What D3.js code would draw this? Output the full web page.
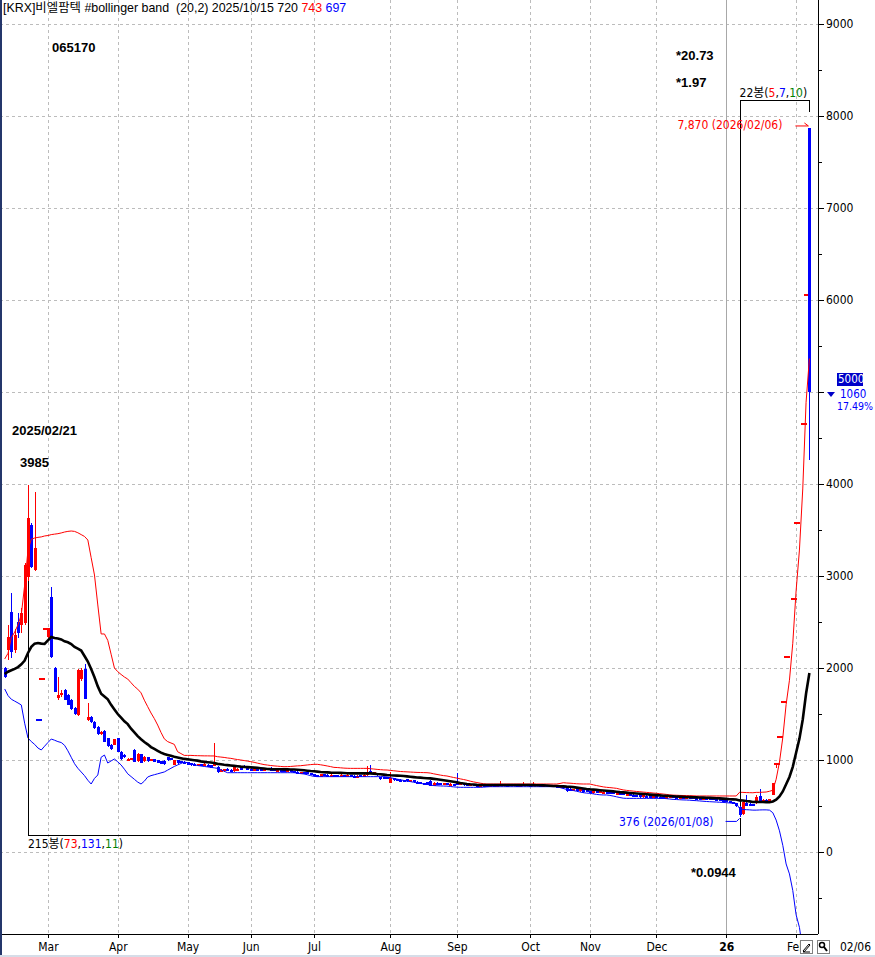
<!DOCTYPE html>
<html>
<head>
<meta charset="utf-8">
<script src="https://cdn.jsdelivr.net/npm/d3@7"></script>
<style>
  body { margin: 0; background: #fff; }
  svg { display: block; }
</style>
</head>
<body>
<div id="container"></div>
<script>
// daily bars 2025/02/12 .. 2026/02/06 (null = trading halt)
const open = [
  2000,2196,2612,2200,2500,2470,2490,2990,3555,3065,1446,1890,2435, // Feb
  2340,2772,2000,1670,1710,1760,1710,1650,1560,1490,1880,1990,1430,1470,1415,1360,1280,1310,1235,1160, // Mar
  1165,1235,1090,1050,1010,1008,1110,985,1060,985,1030,990,1010,1000,985,990,1030,1020,950,1000,985,980, // Apr
  975,965,960,940,958,940,950,945,935,925,870,880,905,895,880,895,915,940,915, // May
  905,895,905,900,890,895,915,900,880,895,890,878,890,880,875,860,870,865,860, // Jun
  845,840,820,845,840,828,838,835,826,838,820,840,830,818,835,826,835,880,845,860,815,815,810, // Jul
  755,800,790,785,780,790,765,780,765,760,750,760,775,720,755,750,730,750,728,740, // Aug
  745,730,752,740,722,735,730,712,728,725,716,728,718,725,735,730,720,735,730,718,722,735, // Sep
  730,718,735,728,715,728,714,725,720,706,715,710,690,665,685,660,680,670, // Oct
  665,640,665,640,645,655,650,655,630,645,640,620,632,625,620,615,595,612,608,598, // Nov
  608,602,600,588,592,605,600,588,600,588,600,595,592,588,575,590,585,582,578,572,570, // Dec
  560,555,545,535,490,410,530,525,520,530,610,550,570,565,620,971,1262,1640,2130,null,2765, // Jan
  3590,null,4665,6060,7870 // Feb
];
const high = [
  2010,2467,2815,2420,2600,2650,3140,3985,3580,3916,1446,1890,2435,
  2435,2880,2010,1900,1760,1770,1720,1660,1575,1990,2000,2040,1620,1480,1420,1365,1320,1330,1240,1170,
  1230,1240,1100,1060,1020,1020,1115,1080,1065,1040,1035,1015,1015,1005,990,995,1035,1025,1005,1005,990,985,
  980,970,965,960,960,962,955,948,1190,930,900,905,910,900,930,915,920,945,920,
  910,910,908,905,905,915,920,905,895,898,895,895,892,885,880,875,872,870,862,
  850,842,850,848,845,845,842,840,845,840,845,842,835,835,840,845,940,945,870,862,820,818,812,
  870,805,795,790,785,795,785,782,770,762,752,765,780,760,758,752,755,752,745,742,
  855,760,755,742,740,738,732,735,730,728,730,730,735,775,738,732,740,738,732,740,760,738,
  735,758,738,730,732,730,730,728,722,725,718,712,695,690,688,690,682,672,
  668,670,668,665,660,658,652,660,650,648,642,640,635,628,622,618,625,615,610,612,
  610,605,602,605,610,608,602,605,602,608,602,598,595,590,595,592,588,585,580,575,572,
  565,558,548,538,500,552,615,530,522,615,680,575,575,580,747,971,1262,1640,2130,null,2765,
  3590,null,4665,6060,7870
];
const low = [
  1890,2087,2108,2160,2330,2380,2470,2950,3090,3050,1446,1890,2435,
  2330,2108,1735,1650,1690,1650,1595,1545,1490,1480,1860,1660,1420,1400,1340,1275,1270,1195,1145,1110,
  1160,1085,1000,1020,1000,1000,975,980,965,980,975,985,975,965,955,950,990,995,945,960,965,955,
  945,940,935,935,935,935,930,915,930,860,865,875,885,880,875,890,900,915,900,
  895,890,890,890,885,890,880,880,875,875,878,875,865,860,858,855,855,850,848,
  825,815,815,825,825,825,825,822,822,820,815,818,815,815,822,820,830,850,840,830,785,790,790,
  750,775,770,765,762,765,760,755,745,735,730,725,715,715,735,728,725,725,722,725,
  725,725,722,720,718,718,712,708,708,712,712,715,715,720,718,716,716,718,715,715,718,718,
  715,715,716,712,712,712,710,708,705,702,690,655,665,660,655,655,645,648,
  640,635,640,636,630,632,630,635,625,622,615,616,615,606,600,590,590,598,596,595,
  590,588,585,585,588,588,585,585,586,585,584,580,575,574,572,575,572,565,560,558,550,
  540,530,520,490,376,405,495,505,495,525,540,545,555,560,615,915,1262,1640,2130,null,2765,
  3590,null,4665,6060,4260
];
const close = [
  1905,2337,2177,2360,2380,2600,3120,3630,3100,3300,1446,1890,2435,
  2435,2120,1740,1710,1730,1655,1600,1550,1500,1975,1980,1665,1470,1410,1345,1280,1300,1200,1150,1120,
  1228,1090,1010,1030,1015,1018,980,1060,970,1030,985,1010,980,970,960,955,995,1000,1000,965,970,960,
  950,945,940,955,938,958,932,918,975,865,895,900,890,885,925,905,905,920,905,
  898,905,895,892,900,910,885,882,890,878,880,890,868,862,860,870,858,855,850,
  828,818,845,830,828,840,828,826,840,824,840,822,818,830,826,842,860,855,865,835,790,795,792,
  800,780,775,770,765,768,780,758,748,738,733,730,720,755,740,732,750,728,740,730,
  730,755,725,724,735,722,716,730,712,716,726,720,730,735,722,720,735,722,719,732,735,722,
  719,735,720,716,728,716,725,712,708,720,695,660,670,685,660,685,650,652,
  645,665,645,660,655,636,634,640,645,626,618,635,620,610,604,595,620,602,600,608,
  594,592,590,600,605,592,590,600,590,602,588,584,580,578,590,580,576,570,565,562,555,
  545,535,525,495,405,545,500,510,498,600,550,570,560,575,747,971,1262,1640,2130,null,2765,
  3590,null,4665,6060,5000
];

// bollinger band (20,2) as drawn
const upperBand = [
  2098,2160,2330,2390,2470,2580,2900,3280,3400,3413,3420,3425,3435,
  3440,3450,3455,3460,3468,3478,3485,3489,3485,3470,3450,3430,3391,3200,3011,2685,2370,2370,2300,2150,
  2000,1960,1930,1902,1880,1840,1800,1770,1730,1650,1580,1511,1450,1380,1300,1230,1200,1185,1170,1090,1070,1050,
  1050,1050,1048,1047,1046,1045,1045,1044,1044,1036,1032,1028,1022,1018,1011,1005,1000,994,988,
  982,975,966,958,950,945,940,936,933,930,927,928,930,933,936,938,942,946,950,
  953,953,948,942,935,928,920,918,915,912,910,909,909,909,909,909,909,905,902,898,895,892,891,
  887,883,879,875,873,871,869,867,865,864,863,862,858,850,843,836,830,826,818,810,
  803,795,788,780,770,762,755,748,742,739,739,739,739,739,739,739,739,739,739,739,739,739,
  739,739,739,739,739,739,739,739,739,745,753,750,748,745,742,740,739,739,
  739,730,722,715,708,703,700,696,692,683,675,670,666,662,658,655,651,648,645,641,
  638,634,630,626,620,618,617,615,614,613,612,611,609,609,609,609,609,609,609,609,609,
  609,609,609,609,649,648,646,645,644,648,648,650,652,660,671,791,978,1244,1602,1867,2269,
  2839,3282,3946,4888,5364
];
const midBand = [
  1935,1960,1975,1990,2010,2040,2080,2163,2230,2265,2272,2265,2261,
  2300,2337,2326,2320,2310,2290,2280,2260,2228,2210,2190,2130,2070,1990,1900,1800,1720,1690,1660,1600,
  1550,1500,1460,1420,1390,1340,1300,1260,1225,1195,1170,1140,1120,1100,1080,1065,1055,1045,1035,1028,1020,1012,
  1008,1003,998,993,985,980,976,972,967,958,953,948,944,940,936,932,928,925,923,
  920,917,914,911,907,903,901,900,900,899,898,898,897,896,894,892,888,884,880,
  877,874,870,867,865,863,862,861,860,858,856,855,855,855,855,855,855,855,852,848,845,841,837,
  834,832,830,828,826,822,818,814,810,808,805,802,800,795,790,785,780,775,769,763,
  757,750,745,740,736,733,730,728,728,728,728,728,728,728,728,728,728,728,728,728,728,728,
  728,727,726,725,724,722,720,718,717,715,713,711,710,705,700,695,690,685,
  681,678,675,672,669,666,663,659,655,651,648,645,642,639,636,633,630,627,624,621,
  618,615,612,610,608,606,604,602,600,598,597,595,594,592,591,589,588,586,584,583,580,
  577,574,572,570,561,559,554,550,544,545,543,543,542,541,549,569,604,658,736,815,926,
  1078,1232,1440,1723,1946
];
const lowerBand = [
  1772,1700,1660,1640,1620,1598,1400,1239,1200,1170,1130,1109,1150,
  1190,1228,1215,1200,1190,1160,1100,1030,960,910,870,830,780,739,800,837,1030,1054,967,990,
  1011,980,946,900,850,820,790,760,739,770,815,830,840,850,860,870,890,910,930,946,962,978,
  970,960,950,940,935,930,925,920,915,909,895,878,862,862,862,862,862,862,862,
  862,862,862,862,862,862,862,862,862,862,862,862,862,862,858,852,848,840,830,
  822,819,819,819,819,819,819,819,819,819,819,819,819,819,819,819,819,819,819,819,819,819,815,
  808,800,792,785,778,770,765,758,752,746,740,735,728,722,720,718,717,716,712,708,
  705,703,703,703,703,703,703,703,705,708,710,710,710,710,710,710,710,710,710,710,710,710,
  710,710,710,710,710,710,710,710,710,700,690,680,674,668,660,652,645,640,
  638,632,626,622,620,620,615,608,600,592,585,583,583,583,583,583,583,583,583,583,
  583,583,583,580,576,572,570,568,566,565,563,560,558,555,552,549,547,545,543,541,539,
  536,533,530,529,473,462,460,458,455,455,457,458,458,455,427,347,230,72,-130,-238,-418,
  -682,-819,-1066,-1442,-1473
];

const monthTicks = [13, 34, 55, 74, 93, 116, 136, 158, 176, 196, 217, 238];
const monthLabels = ["Mar","Apr","May","Jun","Jul","Aug","Sep","Oct","Nov","Dec","26","Feb"];
const priceTicks = d3.range(0, 9001, 1000);
const minorTicks = d3.range(-500, 9000, 1000);

const RED = "#ff0000", BLUE = "#0000ff", GREEN = "#008000";
const NARROW = '"Liberation Sans Narrow","DejaVu Sans Condensed","Liberation Sans","Noto Sans CJK KR",sans-serif';
const SANS = '"Liberation Sans","Noto Sans CJK KR",sans-serif';

const plotW = 818, plotH = 934;
const x = d3.scaleLinear().domain([0, close.length - 1]).range([4.7, 809.4]);
const y = d3.scaleLinear().domain([0, 9000]).range([852, 24]);

const svg = d3.select("#container").append("svg")
    .attr("width", 875).attr("height", 957)
    .attr("font-family", SANS);

svg.append("defs").append("clipPath").attr("id", "plot")
  .append("rect").attr("x", 0).attr("y", 0).attr("width", plotW).attr("height", plotH);

// grid
const grid = svg.append("g").attr("shape-rendering", "crispEdges");
grid.selectAll("line.h").data(priceTicks).join("line")
    .attr("x1", 0).attr("x2", plotW)
    .attr("y1", d => Math.round(y(d)) + 0.5).attr("y2", d => Math.round(y(d)) + 0.5)
    .attr("stroke", "#bcbcbc").attr("stroke-dasharray", "3,3");
grid.selectAll("line.v").data(monthTicks).join("line")
    .attr("x1", d => Math.round(x(d)) + 0.5).attr("x2", d => Math.round(x(d)) + 0.5)
    .attr("y1", 0).attr("y2", plotH)
    .attr("stroke", (d, k) => monthLabels[k] === "26" ? "#a8a8a8" : "#bcbcbc")
    .attr("stroke-width", (d, k) => monthLabels[k] === "26" ? 1.5 : 1)
    .attr("stroke-dasharray", (d, k) => monthLabels[k] === "26" ? null : "3,3");

const plot = svg.append("g").attr("clip-path", "url(#plot)");

// candles
function prevClose(i) {
  for (let k = i - 1; k >= 0; k--) if (close[k] != null) return close[k];
  return close[i];
}
const bars = d3.range(close.length).filter(i => close[i] != null).map(i => {
  const o = open[i], c = close[i];
  const col = c > o ? RED : c < o ? BLUE : (c >= prevClose(i) ? RED : BLUE);
  return { i, o, h: high[i], l: low[i], c, col };
});

const cg = plot.append("g").attr("shape-rendering", "crispEdges");
const candle = cg.selectAll("g").data(bars).join("g");
candle.filter(d => d.h > d.l).append("line")
    .attr("x1", d => Math.round(x(d.i)) + 0.5).attr("x2", d => Math.round(x(d.i)) + 0.5)
    .attr("y1", d => y(d.h)).attr("y2", d => y(d.l))
    .attr("stroke", d => d.col);
candle.append("rect")
    .attr("x", d => Math.round(x(d.i)) - (d.o === d.c ? 2 : 1))
    .attr("width", d => d.o === d.c ? 6 : 3)
    .attr("y", d => Math.round(y(Math.max(d.o, d.c))))
    .attr("height", d => Math.max(2, Math.round(y(Math.min(d.o, d.c))) - Math.round(y(Math.max(d.o, d.c)))))
    .attr("fill", d => d.col);

// bands
const bandLine = d3.line().x((d, i) => x(i)).y(d => y(d));
plot.append("path").attr("d", bandLine(upperBand)).attr("fill", "none").attr("stroke", RED).attr("stroke-width", 1);
plot.append("path").attr("d", bandLine(lowerBand)).attr("fill", "none").attr("stroke", BLUE).attr("stroke-width", 1);
plot.append("path").attr("d", bandLine(midBand)).attr("fill", "none").attr("stroke", "#000").attr("stroke-width", 2.6);

// period boxes
const iA = 7, iB = 221, iC = close.length - 1;
const boxBottom = y(low[iB]) + 18, boxTop = y(high[iC]) - 27;
svg.append("path")
    .attr("d", `M${Math.round(x(iA)) + 0.5},${y(low[iA])} V${boxBottom} H${Math.round(x(iB)) + 0.5} V${y(low[iB]) + 1}`)
    .attr("fill", "none").attr("stroke", "#000").attr("shape-rendering", "crispEdges");
svg.append("path")
    .attr("d", `M${Math.round(x(iB)) + 0.5},${y(high[iB])} V${boxTop} H${Math.round(x(iC)) + 0.5} V${boxTop + 11}`)
    .attr("fill", "none").attr("stroke", "#000").attr("shape-rendering", "crispEdges");

function colored(sel, parts) {
  parts.forEach(([t, c]) => sel.append("tspan").attr("fill", c).text(t));
  return sel;
}
colored(svg.append("text").attr("x", x(iB)).attr("y", boxTop - 4)
    .attr("font-family", NARROW).attr("font-size", 12),
  [["22봉(", "#000"], ["5", RED], [",", "#000"], ["7", BLUE], [",", "#000"], ["10", GREEN], [")", "#000"]]);
colored(svg.append("text").attr("x", x(iA)).attr("y", boxBottom + 13)
    .attr("font-family", NARROW).attr("font-size", 12),
  [["215봉(", "#000"], ["73", RED], [",", "#000"], ["131", BLUE], [",", "#000"], ["11", GREEN], [")", "#000"]]);

// high / low markers
svg.append("text").attr("x", x(iC) - 27).attr("y", y(high[iC]) + 1)
    .attr("text-anchor", "end").attr("font-family", NARROW).attr("font-size", 12).attr("fill", RED)
    .text("7,870 (2026/02/06)");
svg.append("path")
    .attr("d", `M${x(iC) - 14},${y(high[iC]) - 2} H${x(iC) - 1} M${x(iC) - 5},${y(high[iC]) - 5} L${x(iC) - 1},${y(high[iC]) - 2}`)
    .attr("fill", "none").attr("stroke", RED);
svg.append("text").attr("x", x(iB) - 26).attr("y", y(low[iB]) + 9)
    .attr("text-anchor", "end").attr("font-family", NARROW).attr("font-size", 12).attr("fill", BLUE)
    .text("376 (2026/01/08)");
svg.append("path")
    .attr("d", `M${x(iB) - 14},${y(low[iB]) + 4} H${x(iB) - 3} L${x(iB)},${y(low[iB]) + 1}`)
    .attr("fill", "none").attr("stroke", BLUE);

// bold notes
const notes = svg.append("g").attr("font-weight", "bold").attr("font-size", 13).attr("fill", "#000");
notes.append("text").attr("x", 52).attr("y", 52).text("065170");
notes.append("text").attr("x", 676).attr("y", 60).text("*20.73");
notes.append("text").attr("x", 676).attr("y", 87).text("*1.97");
notes.append("text").attr("x", 691).attr("y", 877).text("*0.0944");
notes.append("text").attr("x", x(iA) - 16).attr("y", y(high[iA]) - 50).text("2025/02/21");
notes.append("text").attr("x", x(iA) - 8).attr("y", y(high[iA]) - 18).text("3985");

// title
const title = svg.append("text").attr("x", 3).attr("y", 12).attr("font-size", 12.4).style("white-space", "pre");
colored(title, [["[KRX]비엘팜텍 #bollinger band  (20,2) 2025/10/15 720 ", "#000"], ["743", RED], [" ", "#000"], ["697", BLUE]]);

// current price
const last = close[iC], change = 1060;
const py = y(last);

// right axis (the level of the current price carries the price box instead of a label)
const yMajor = svg.append("g").attr("transform", `translate(${plotW},0)`)
    .call(d3.axisRight(y).tickValues(priceTicks).tickSize(6).tickPadding(2).tickFormat(d3.format("d")));
yMajor.select(".domain").remove();
yMajor.selectAll(".tick text").filter(d => d === last).remove();
yMajor.attr("font-family", NARROW).attr("font-size", 12).attr("shape-rendering", "crispEdges");
const yMinor = svg.append("g").attr("transform", `translate(${plotW},0)`)
    .call(d3.axisRight(y).tickValues(minorTicks).tickSize(4).tickFormat(""));
yMinor.select(".domain").remove();
yMinor.attr("shape-rendering", "crispEdges");
svg.append("line").attr("x1", plotW + 0.5).attr("x2", plotW + 0.5).attr("y1", 0).attr("y2", plotH)
    .attr("stroke", "#000").attr("shape-rendering", "crispEdges");

// bottom axis
const xAx = svg.append("g").attr("transform", `translate(0,${plotH})`)
    .call(d3.axisBottom(x).tickValues(monthTicks).tickSize(4).tickPadding(4).tickFormat((d, k) => monthLabels[k]));
xAx.select(".domain").remove();
xAx.attr("font-family", NARROW).attr("font-size", 12).attr("shape-rendering", "crispEdges");
xAx.selectAll("text").filter(t => t === 217).attr("font-weight", "bold");
svg.append("line").attr("x1", 0).attr("x2", plotW).attr("y1", plotH + 0.5).attr("y2", plotH + 0.5)
    .attr("stroke", "#000").attr("shape-rendering", "crispEdges");

// current price marker
svg.append("rect").attr("x", 837).attr("y", py - 19).attr("width", 26).attr("height", 13).attr("fill", "#0000c8");
svg.append("text").attr("x", 838).attr("y", py - 9).attr("font-family", NARROW).attr("font-size", 11.5)
    .attr("fill", "#fff").text(d3.format("d")(last));
svg.append("path").attr("d", `M827,${py} L835,${py} L831,${py + 5} Z`).attr("fill", "#0000c8");
svg.append("text").attr("x", 840).attr("y", py + 6).attr("font-family", NARROW).attr("font-size", 11.5)
    .attr("fill", BLUE).text(change);
svg.append("text").attr("x", 837).attr("y", py + 18).attr("font-family", NARROW).attr("font-size", 10.5)
    .attr("fill", BLUE).text("17.49%");

// bottom right tools
const tools = svg.append("g").attr("shape-rendering", "crispEdges");
[800, 817].forEach(bx => tools.append("rect").attr("x", bx + 0.5).attr("y", 940.5).attr("width", 12).attr("height", 13)
    .attr("fill", "#fff").attr("stroke", "#808080"));
svg.append("path").attr("d", "M803,951 L809,944 L810,945 L804,952 Z M803,952 H810").attr("fill", "none").attr("stroke", "#000");
svg.append("circle").attr("cx", 822).attr("cy", 945).attr("r", 2.5).attr("fill", "none").attr("stroke", "#000").attr("stroke-width", 1.5);
svg.append("path").attr("d", "M824,947 L827,951").attr("stroke", "#000").attr("stroke-width", 2);
svg.append("text").attr("x", 840).attr("y", 951).attr("font-family", NARROW).attr("font-size", 12).text("02/06");

// frame
svg.append("rect").attr("x", 0).attr("y", 0).attr("width", 2).attr("height", 957).attr("fill", "#24366b");
svg.append("rect").attr("x", 0).attr("y", 955).attr("width", 875).attr("height", 2).attr("fill", "#d6dde8");
</script>
</body>
</html>
